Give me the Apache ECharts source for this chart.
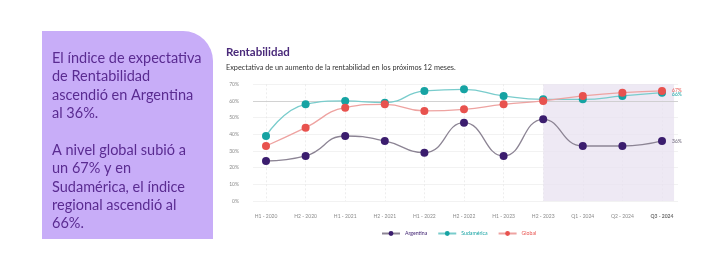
<!DOCTYPE html>
<html>
<head>
<meta charset="utf-8">
<script src="https://cdn.jsdelivr.net/npm/echarts@6/dist/echarts.min.js"></script>
<style>
html,body{margin:0;padding:0;background:#fff;}
#c{width:712px;height:270px;}
</style>
</head>
<body>
<div id="c"></div>
<script>
const categories = ['H1 - 2020','H2 - 2020','H1 - 2021','H2 - 2021','H1 - 2022','H2 - 2022','H1 - 2023','H2 - 2023','Q1 - 2024','Q2 - 2024','Q3 - 2024'];
const argentina = [24, 27, 39, 36, 29, 47, 27, 49, 33, 33, 36];
const sudamerica = [39, 58, 60, 59, 66, 67, 63, 61, 61, 63, 65];
const globalSeries = [33, 44, 56, 58, 54, 55, 58, 60, 63, 65, 66];
const seriesNames = ['Argentina', 'Sudamérica', 'Global'];
const endLabels = ['36%', '66%', '67%'];
const yTicks = [0, 10, 20, 30, 40, 50, 60, 70];
const shadeFrom = 'H2 - 2023';
const highlightLine = 60;
const titleText = 'Rentabilidad';
const subtitleText = 'Expectativa de un aumento de la rentabilidad en los próximos 12 meses.';
const panelLines = ['El índice de expectativa','de Rentabilidad','ascendió en Argentina','al 36%.','','A nivel global subió a','un 67% y en','Sudamérica, el índice','regional ascendió al','66%.'];

const FONT = 'Lato, "Noto Sans", sans-serif';
const dotColors = ['#3b1d6e', '#16a3a3', '#e8524e'];
const lineColors = ['#8c8494', '#79cccc', '#eea3a1'];
const dataSets = [argentina, sudamerica, globalSeries];
const labelOffsets = [[6, 0], [6, 2], [6, -1]];

const chart = echarts.init(document.getElementById('c'), null, {renderer: 'canvas'});

const series = dataSets.map((d, i) => ({
  name: seriesNames[i],
  type: 'line',
  xAxisIndex: 1,
  yAxisIndex: 1,
  data: d,
  smooth: 0.5,
  symbol: 'circle',
  symbolSize: 8,
  z: 5 + i,
  itemStyle: {color: dotColors[i]},
  lineStyle: {color: lineColors[i], width: 1.3},
  endLabel: {
    show: true,
    formatter: () => endLabels[i],
    color: i === 0 ? '#6b6478' : dotColors[i],
    fontSize: 5,
    fontFamily: FONT,
    distance: 4,
    offset: labelOffsets[i]
  },
  emphasis: {disabled: true}
}));

series.push({
  type: 'line',
  xAxisIndex: 0,
  yAxisIndex: 0,
  data: [],
  silent: true,
  markArea: {
    silent: true,
    itemStyle: {color: 'rgba(232,226,240,0.75)'},
    data: [[{xAxis: categories.indexOf(shadeFrom), yAxis: 70}, {xAxis: 10.3, yAxis: 0}]]
  },
  markLine: {
    silent: true,
    symbol: 'none',
    label: {show: false},
    lineStyle: {color: '#c9c9c9', type: 'solid', width: 0.8},
    data: [{yAxis: highlightLine}]
  }
});

chart.setOption({
  backgroundColor: '#ffffff',
  animation: false,
  textStyle: {fontFamily: FONT},
  grid: [
    {left: 253, right: 34, top: 84.3, bottom: 69},
    {left: 266, right: 50, top: 84.3, bottom: 69}
  ],
  xAxis: [
    {type: 'value', gridIndex: 0, min: -0.33, max: 10.4, show: false, splitLine: {show: false}},
    {type: 'category', gridIndex: 1, data: categories, boundaryGap: false,
      axisLine: {show: false}, axisTick: {show: false},
      axisLabel: {color: '#8a8a8a', fontSize: 5, margin: 13, fontFamily: FONT,
        formatter: (v, idx) => idx === categories.length - 1 ? '{b|' + v + '}' : v,
        rich: {b: {fontWeight: 'bold', color: '#6e6e6e', fontSize: 5, fontFamily: FONT}}},
      splitLine: {show: true, lineStyle: {color: '#e6e6e6', type: [2, 2], width: 0.7}}}
  ],
  yAxis: [
    {type: 'value', gridIndex: 0, min: 0, max: 70, interval: 10,
      axisLine: {show: false}, axisTick: {show: false},
      axisLabel: {color: '#8a8a8a', fontSize: 5, margin: 14, fontFamily: FONT,
        formatter: v => yTicks.includes(v) ? v + '%' : ''},
      splitLine: {lineStyle: {color: '#ececec', width: 0.7}}},
    {type: 'value', gridIndex: 1, min: 0, max: 70, show: false, splitLine: {show: false}}
  ],
  legend: {
    data: seriesNames.map((n, i) => ({name: n, textStyle: {color: dotColors[i]}})),
    left: 376,
    top: 226,
    itemWidth: 18,
    itemHeight: 6,
    itemGap: 10,
    textStyle: {fontSize: 5.2, fontFamily: FONT}
  },
  title: [
    {text: titleText, left: 221, top: 41, padding: 5, textStyle: {fontSize: 11.5, fontWeight: 'bold', color: '#4a2a7a', fontFamily: FONT}},
    {text: subtitleText, left: 221, top: 59, padding: 5, textStyle: {fontSize: 7.3, fontWeight: 'normal', color: '#333', fontFamily: FONT}}
  ],
  graphic: [
    {type: 'rect', left: 42, top: 31, z: 0,
      shape: {width: 171, height: 208, r: [0, 30, 0, 0]},
      style: {fill: '#c8adf8'}},
    {type: 'text', left: 52, top: 49, z: 1,
      style: {text: panelLines.join('\n'), fill: '#5a2b91', fontSize: 14.5, lineHeight: 18.4,
        fontFamily: FONT}}
  ],
  series: series
});
</script>
</body>
</html>
